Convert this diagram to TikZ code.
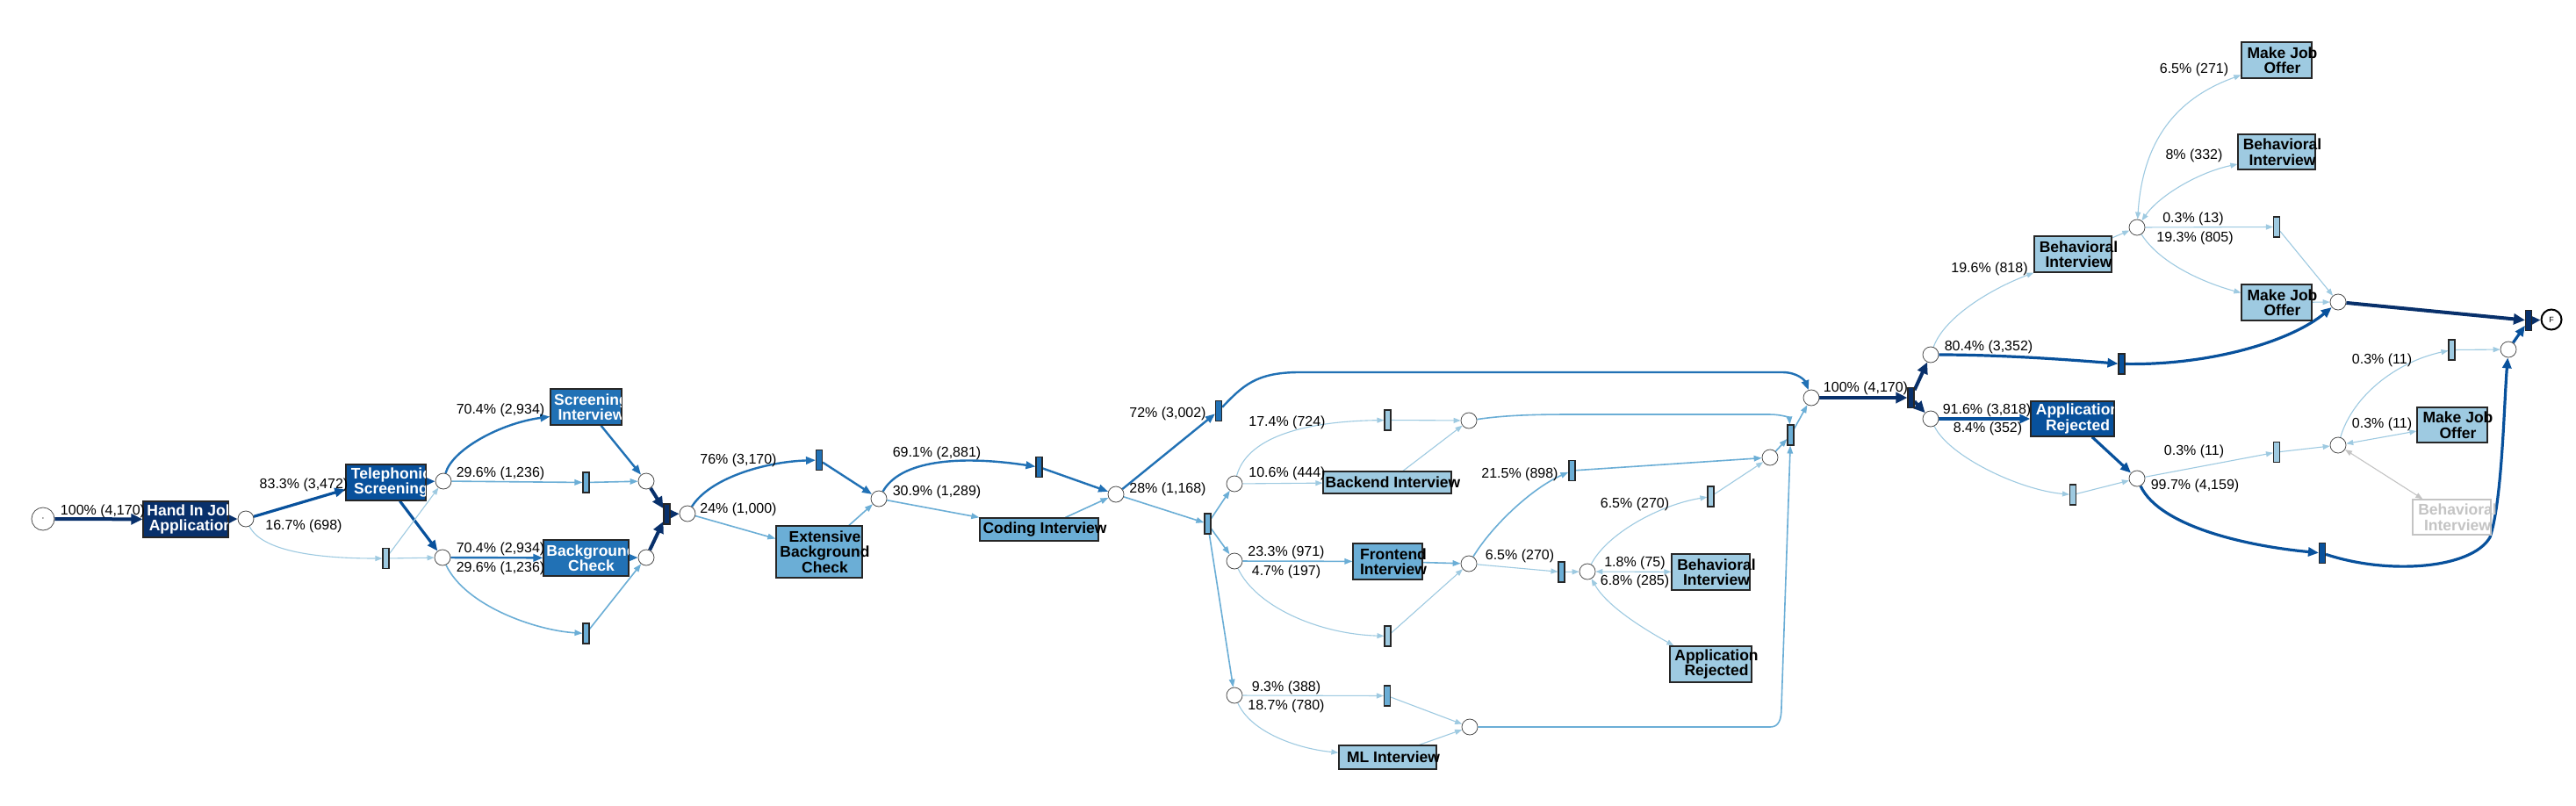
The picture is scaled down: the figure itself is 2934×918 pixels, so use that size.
\documentclass[tikz,border=0pt]{standalone}
\usepackage{fontspec}
\setmainfont{Liberation Sans}
\usetikzlibrary{arrows.meta,calc}
\pgfdeclarelayer{bglayer}
\pgfdeclarelayer{edgelayer}
\pgfsetlayers{bglayer,edgelayer,main}
\definecolor{cNavy}{HTML}{08306B}
\definecolor{cDark}{HTML}{08519C}
\definecolor{cMid}{HTML}{2171B5}
\definecolor{cLight}{HTML}{6BAED6}
\definecolor{cPale}{HTML}{9ECAE1}
\definecolor{cGhost}{HTML}{C4C4C4}
\tikzset{
 pl/.style={circle, draw=black!70, line width=0.8pt, fill=white, minimum size=18pt, inner sep=0},
 tr/.style={rectangle, draw=black!85, line width=1.1pt, minimum width=7pt, minimum height=23pt, inner sep=0},
 box/.style={rectangle, draw=black!85, line width=1.3pt, inner sep=0},
 wtxt/.style={text=white, font=\fontsize{17.5}{17.5}\selectfont\bfseries, align=center, inner sep=0},
 btxt/.style={text=black, font=\fontsize{17.5}{17.5}\selectfont\bfseries, align=center, inner sep=0},
 gtxt/.style={text=cGhost, font=\fontsize{17.5}{17.5}\selectfont\bfseries, align=center, inner sep=0},
 lbl/.style={font=\fontsize{16}{16}\selectfont, inner sep=0, text=black},
 eN/.style={draw=cNavy, line width=4pt, -{Triangle[length=13pt,width=12pt]}},
 eD/.style={draw=cDark, line width=3.2pt, -{Triangle[length=12pt,width=10pt]}},
 eM/.style={draw=cMid, line width=2.4pt, -{Triangle[length=11pt,width=8.5pt]}},
 eL/.style={draw=cLight, line width=1.6pt, -{Triangle[length=9pt,width=6.5pt]}},
 eP/.style={draw=cPale, line width=1.1pt, -{Triangle[length=8pt,width=6pt]}},
 ePb/.style={draw=cPale, line width=1.1pt, {Triangle[length=8pt,width=6pt]}-{Triangle[length=8pt,width=6pt]}},
 eGb/.style={draw=cGhost, line width=1.1pt, {Triangle[length=8pt,width=6pt]}-{Triangle[length=8pt,width=6pt]}},
}
% name, x, y, w, h, fill, text
\newcommand{\mkBoxW}[7]{%
 \node[box, fill=#6, minimum width=#4pt, minimum height=#5pt] (#1) at (#2,#3) {};
 \begin{scope}
 \clip ($(#1.south west)+(1,-1)$) rectangle ($(#1.north east)+(-1,1)$);
 \node[wtxt] (#1-t) at ($(#1.center)+(6,0)$) {#7};
 \end{scope}}
\newcommand{\mkBoxB}[7]{%
 \node[box, fill=#6, minimum width=#4pt, minimum height=#5pt] (#1) at (#2,#3) {};
 \node[btxt] (#1-t) at ($(#1.center)+(6.5,0)$) {#7};}
\begin{document}
\begin{tikzpicture}[x=1pt,y=-1pt]
\useasboundingbox (0,0) rectangle (2934,918);
\begin{pgfonlayer}{bglayer}
\fill[white] (0,0) rectangle (2934,918);
\end{pgfonlayer}

% ---------- nodes ----------
\node[pl, minimum size=26pt] (c0) at (49,591) {\fontsize{12}{12}\selectfont$\cdot$};
\mkBoxW{hand}{211.5}{591.5}{97}{41}{cNavy}{Hand In Job\\Application}
\node[pl] (p1) at (280,591) {};
\mkBoxW{tel}{439.5}{549.5}{91}{41}{cDark}{Telephonic\\Screening}
\node[tr, fill=cPale] (t1) at (439.5,636) {};
\node[pl] (p2) at (505,548) {};
\node[pl] (p3) at (504,635) {};
\mkBoxW{scr}{667.5}{463.5}{81}{41}{cMid}{Screening\\Interview}
\mkBoxW{bg}{667.5}{635.5}{97}{41}{cMid}{Background\\Check}
\node[tr, fill=cLight] (t2) at (667.5,549.5) {};
\node[tr, fill=cLight] (t3) at (667.5,721.5) {};
\node[pl] (p4) at (736,548) {};
\node[pl] (p5) at (736,635) {};
\node[tr, fill=cNavy] (t4) at (759.5,585.5) {};
\node[pl] (p6) at (783,585) {};
\node[tr, fill=cMid] (t5) at (933,524) {};
\mkBoxB{ebc}{933}{628.5}{98}{59}{cLight}{Extensive\\Background\\Check}
\node[pl] (p7) at (1001,568) {};
\node[tr, fill=cMid] (t6) at (1183.5,532) {};
\mkBoxB{cod}{1183.5}{603}{135}{26}{cLight}{Coding Interview}
\node[pl] (p8) at (1271,563) {};
\node[tr, fill=cMid] (t7) at (1388,468) {};
\node[tr, fill=cLight] (t8) at (1375.5,596.5) {};
\node[pl] (p9) at (1406,551) {};
\node[pl] (p10) at (1406,639) {};
\node[pl] (p16) at (1406,792) {};
\node[tr, fill=cPale] (t9) at (1580.5,478.5) {};
\mkBoxB{back}{1580}{549.5}{146}{25}{cPale}{Backend Interview}
\mkBoxB{front}{1580.5}{639.5}{79}{41}{cLight}{Frontend\\Interview}
\node[tr, fill=cPale] (t10) at (1580.5,724.5) {};
\node[tr, fill=cLight] (t15) at (1580,792.5) {};
\mkBoxB{ml}{1580.5}{862.5}{111}{27}{cPale}{ML Interview}
\node[pl] (p11) at (1673,479) {};
\node[pl] (p12) at (1673,642) {};
\node[pl] (p17) at (1674,828) {};
\node[tr, fill=cLight] (t11) at (1790.5,536) {};
\node[tr, fill=cLight] (t13) at (1778.5,651.5) {};
\node[pl] (p14) at (1808,651) {};
\node[tr, fill=cPale] (t12) at (1948.5,565.5) {};
\mkBoxB{behm}{1948.5}{651.5}{89}{41}{cPale}{Behavioral\\Interview}
\mkBoxB{rejm}{1948.5}{756.5}{93}{41}{cPale}{Application\\Rejected}
\node[pl] (p13) at (2016,521) {};
\node[tr, fill=cLight] (t14) at (2039.5,495.5) {};
\node[pl] (p15) at (2063,453) {};
\node[tr, fill=cNavy] (t16) at (2176.5,453) {};
\node[pl] (p18) at (2199,404) {};
\node[pl] (p19) at (2199,477) {};
\mkBoxB{behr}{2361}{289.5}{88}{41}{cPale}{Behavioral\\Interview}
\mkBoxW{rejr}{2360.5}{477}{95}{40}{cDark}{Application\\Rejected}
\node[tr, fill=cDark] (t17) at (2416.5,414.5) {};
\node[tr, fill=cPale] (t18) at (2361,563.5) {};
\node[pl] (p20) at (2434,545) {};
\node[pl] (p21) at (2434,259) {};
\mkBoxB{mjo1}{2593}{68.5}{80}{41}{cPale}{Make Job\\Offer}
\mkBoxB{beh2}{2593}{173}{88}{40}{cPale}{Behavioral\\Interview}
\node[tr, fill=cPale] (t19) at (2593,258.5) {};
\mkBoxB{mjo2}{2593}{344.5}{80}{41}{cPale}{Make Job\\Offer}
\node[tr, fill=cPale] (t22) at (2593,515) {};
\node[tr, fill=cDark] (t23) at (2645,630) {};
\node[pl] (p22) at (2663,344) {};
\node[pl] (p24) at (2663,507) {};
\node[tr, fill=cPale] (t21) at (2792.5,398.5) {};
\mkBoxB{mjo3}{2793}{484}{80}{40}{cPale}{Make Job\\Offer}
\node[box, draw=cGhost, fill=white, minimum width=89pt, minimum height=40pt] (ghost) at (2792.5,589) {};
\node[gtxt] (ghost-t) at ($(ghost.center)+(6.5,0)$) {Behavioral\\Interview};
\node[pl] (p23) at (2857,398) {};
\node[tr, fill=cNavy] (t20) at (2880,365) {};
\node[pl, minimum size=23pt, draw=black, line width=2pt] (fin) at (2906,364) {\fontsize{9}{9}\selectfont F};

% ---------- labels ----------
\node[lbl] (l1) at (117,582) {100\% (4,170)};
\node[lbl] (l2) at (346,552) {83.3\% (3,472)};
\node[lbl] (l3) at (346,599) {16.7\% (698)};
\node[lbl] (l4) at (570,467) {70.4\% (2,934)};
\node[lbl] (l5) at (570,539) {29.6\% (1,236)};
\node[lbl] (l6) at (570,625) {70.4\% (2,934)};
\node[lbl] (l7) at (570,647) {29.6\% (1,236)};
\node[lbl] (l8) at (841,524) {76\% (3,170)};
\node[lbl] (l9) at (841,580) {24\% (1,000)};
\node[lbl] (l10) at (1067,516) {69.1\% (2,881)};
\node[lbl] (l11) at (1067,560) {30.9\% (1,289)};
\node[lbl] (l12) at (1330,471) {72\% (3,002)};
\node[lbl] (l13) at (1330,557) {28\% (1,168)};
\node[lbl] (l14) at (1466,481) {17.4\% (724)};
\node[lbl] (l15) at (1466,539) {10.6\% (444)};
\node[lbl] (l16) at (1465,629) {23.3\% (971)};
\node[lbl] (l17) at (1465,651) {4.7\% (197)};
\node[lbl] (l18) at (1465,783) {9.3\% (388)};
\node[lbl] (l19) at (1465,804) {18.7\% (780)};
\node[lbl] (l20) at (1731,540) {21.5\% (898)};
\node[lbl] (l21) at (1731,633) {6.5\% (270)};
\node[lbl] (l22) at (1862,574) {6.5\% (270)};
\node[lbl] (l23) at (1862,641) {1.8\% (75)};
\node[lbl] (l24) at (1862,662) {6.8\% (285)};
\node[lbl] (l25) at (2125,442) {100\% (4,170)};
\node[lbl] (l26) at (2265,395) {80.4\% (3,352)};
\node[lbl] (l27) at (2263,467) {91.6\% (3,818)};
\node[lbl] (l28) at (2264,488) {8.4\% (352)};
\node[lbl] (l29) at (2266,306) {19.6\% (818)};
\node[lbl] (l30) at (2499,79) {6.5\% (271)};
\node[lbl] (l31) at (2499,177) {8\% (332)};
\node[lbl] (l32) at (2498,249) {0.3\% (13)};
\node[lbl] (l33) at (2500,271) {19.3\% (805)};
\node[lbl] (l34) at (2499,514) {0.3\% (11)};
\node[lbl] (l35) at (2500,553) {99.7\% (4,159)};
\node[lbl] (l36) at (2713,410) {0.3\% (11)};
\node[lbl] (l37) at (2713,483) {0.3\% (11)};

% ---------- edges ----------
\begin{pgfonlayer}{edgelayer}
\draw[eN] (c0) -- (hand);
\draw[eN] (hand) -- (p1);
\draw[eD] (p1) -- ($(tel.west)+(0,8)$);
\draw[eP] (p1) .. controls (300,632) and (380,636) .. (t1);
\draw[eD] (tel) -- (p2);
\draw[eD] (tel) -- (p3);
\draw[eP] (t1) -- (p2);
\draw[eP] (t1) -- (p3);
\draw[eM] (p2) .. controls (515,512) and (570,482) .. ($(scr.west)+(0,11)$);
\draw[eL] (p2) -- (t2);
\draw[eL] (t2) -- (p4);
\draw[eM] ($(scr.south)+(17,0)$) -- (p4);
\draw[eM] (p3) -- (bg);
\draw[eL] (p3) .. controls (530,690) and (610,718) .. (t3);
\draw[eM] (bg) -- (p5);
\draw[eL] (t3) -- (p5);
\draw[eN] (p4) -- (t4);
\draw[eN] (p5) -- (t4);
\draw[eN] (t4) -- (p6);
\draw[eM] (p6) .. controls (808,545) and (870,526) .. (t5);
\draw[eL] (p6) -- ($(ebc.west)+(0,-15)$);
\draw[eM] (t5) -- (p7);
\draw[eL] ($(ebc.north)+(34,0)$) -- (p7);
\draw[eM] (p7) .. controls (1025,525) and (1090,518) .. (t6);
\draw[eL] (p7) -- (cod.north west);
\draw[eM] (t6) -- (p8);
\draw[eL] ($(cod.north)+(30,0)$) -- (p8);
\draw[eM] (p8) -- (t7);
\draw[eL] (p8) -- (t8);
\draw[eM] (t7) .. controls (1415,440) and (1430,424) .. (1480,424) -- (2030,424) .. controls (2048,424) and (2056,434) .. (p15);
\draw[eL] (t8) -- (p9);
\draw[eL] (t8) -- (p10);
\draw[eL] (t8) -- (p16);
\draw[eP] (p9) .. controls (1420,500) and (1480,480) .. (t9);
\draw[eP] (p9) -- (back);
\draw[eP] (t9) -- (p11);
\draw[eP] ($(back.north)+(18,0)$) -- (p11);
\draw[eL] (p10) -- (front);
\draw[eP] (p10) .. controls (1430,690) and (1500,722) .. (t10);
\draw[eL] (front) -- (p12);
\draw[eP] (t10) -- (p12);
\draw[eP] (p16) -- (t15);
\draw[eP] (p16) .. controls (1425,835) and (1480,853) .. (ml);
\draw[eP] (t15) -- (p17);
\draw[eP] ($(ml.north)+(36,0)$) -- (p17);
\draw[eL] (p11) .. controls (1720,472) and (1760,472) .. (1800,472) -- (2015,472) .. controls (2030,472) and (2038,476) .. (t14);
\draw[eL] (p12) .. controls (1700,598) and (1745,556) .. (t11);
\draw[eP] (p12) -- (t13);
\draw[eL] (t11) -- (p13);
\draw[eP] (t13) -- (p14);
\draw[eP] (p14) .. controls (1830,608) and (1890,575) .. (t12);
\draw[eP] (t12) -- (p13);
\draw[ePb] (p14) -- (behm);
\draw[ePb] (p14) .. controls (1830,690) and (1870,715) .. ($(rejm.north west)+(5,0)$);
\draw[eL] (p13) -- (t14);
\draw[eL] (p17) -- (2016,828) .. controls (2026,828) and (2029,820) .. (2029,805) -- (t14);
\draw[eL] (t14) -- (p15);
\draw[eN] (p15) -- (t16);
\draw[eN] (t16) -- (p18);
\draw[eN] (t16) -- (p19);
\draw[eD] (p18) .. controls (2280,404) and (2360,410) .. (t17);
\draw[eD] (t17) .. controls (2520,416) and (2610,388) .. (p22);
\draw[eD] (p19) -- (rejr);
\draw[eP] (p19) .. controls (2220,520) and (2300,558) .. (t18);
\draw[eP] (p18) .. controls (2215,360) and (2270,328) .. (behr.south west);
\draw[eD] (rejr) -- (p20);
\draw[eP] (t18) -- (p20);
\draw[eP] (behr) -- (p21);
\draw[eP] (p21) -- (t19);
\draw[eP] (p21) .. controls (2460,300) and (2510,322) .. ($(mjo2.west)+(0,-11)$);
\draw[eP] (mjo2) -- (p22);
\draw[eP] (t19) -- (p22);
\draw[ePb] (p21) .. controls (2440,170) and (2470,115) .. ($(mjo1.west)+(0,17)$);
\draw[ePb] (p21) .. controls (2460,222) and (2505,196) .. ($(beh2.west)+(0,14)$);
\draw[eN] (p22) -- (t20);
\draw[eN] (t20) -- (fin);
\draw[eP] (p20) -- (t22);
\draw[eP] (t22) -- (p24);
\draw[eP] (p24) .. controls (2680,450) and (2730,412) .. (t21);
\draw[eP] (t21) -- (p23);
\draw[ePb] (p24) -- ($(mjo3.west)+(0,7)$);
\draw[eGb] (p24) -- ($(ghost.north west)+(12,0)$);
\draw[eD] (p20) .. controls (2460,600) and (2560,622) .. (t23);
\draw[eD] (t23) .. controls (2720,655) and (2815,648) .. (2836,612) .. controls (2850,570) and (2852,460) .. (p23);
\draw[eD] (p23) -- (t20);
\end{pgfonlayer}
\end{tikzpicture}
\end{document}
